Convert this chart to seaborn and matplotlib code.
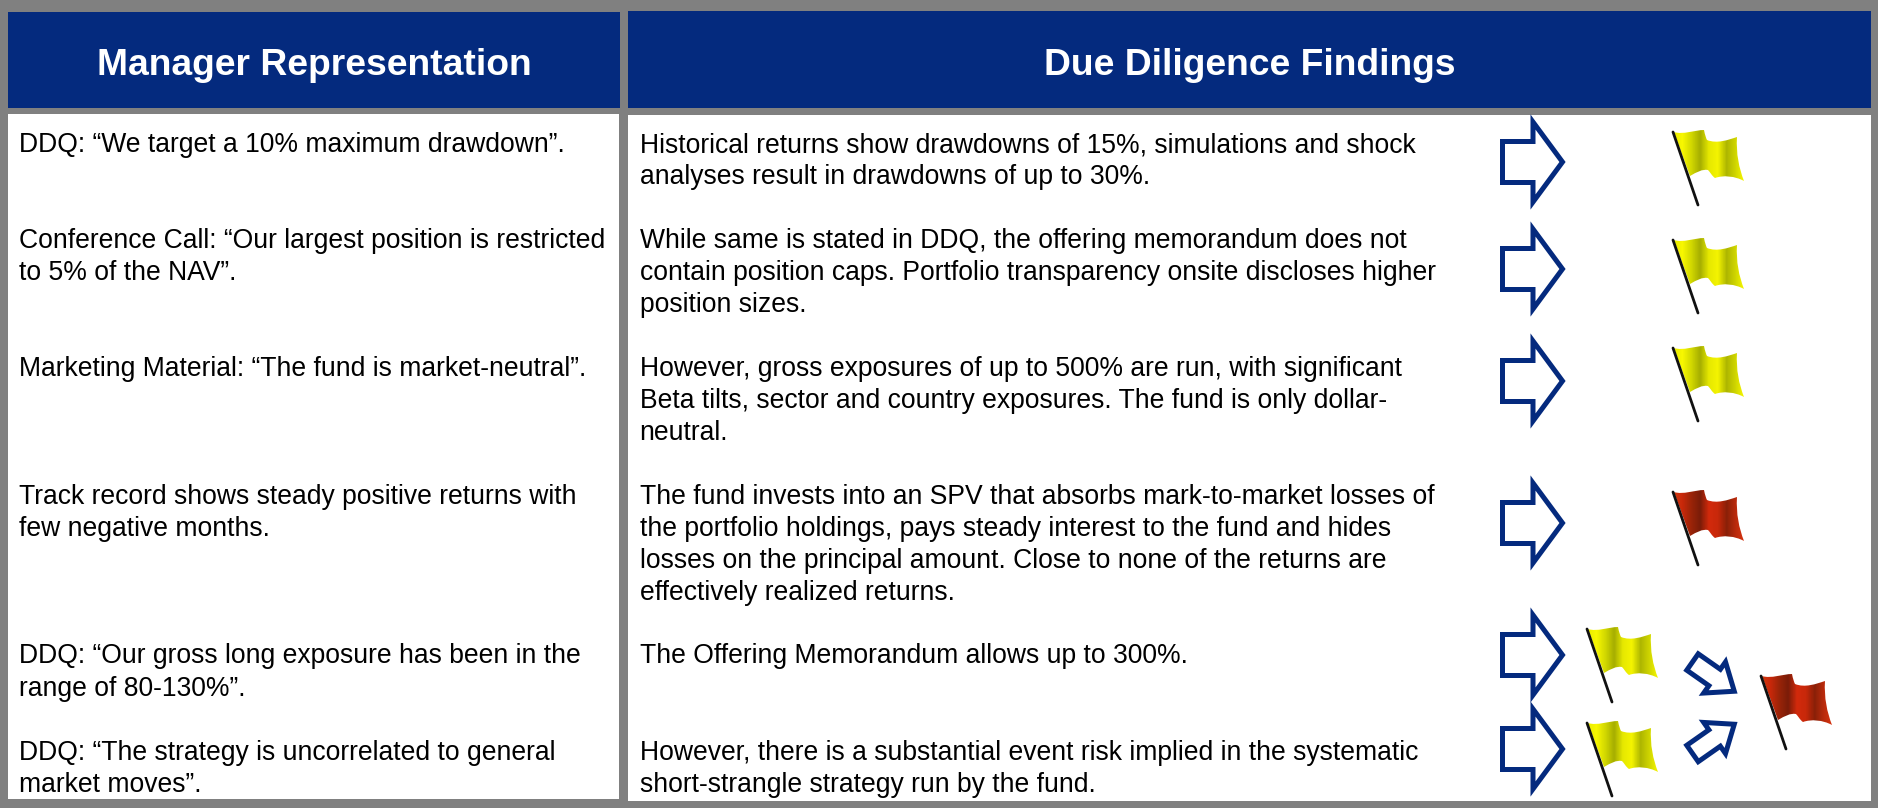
import numpy as np
import matplotlib
matplotlib.use("Agg")
import matplotlib.pyplot as plt
from matplotlib.patches import Rectangle, Polygon, PathPatch
from matplotlib.path import Path
import seaborn as sns

sns.set_theme(style="white")
plt.rcParams['font.family'] = ['Liberation Sans', 'DejaVu Sans']

W, H = 1878, 808
GREY, NAVY, INK = "#808080", "#042A7E", "#000000"

headers = ["Manager Representation", "Due Diligence Findings"]
left_text = [
    (152, "DDQ: “We target a 10% maximum drawdown”."),
    (248, "Conference Call: “Our largest position is restricted"),
    (280, "to 5% of the NAV”."),
    (376, "Marketing Material: “The fund is market-neutral”."),
    (504, "Track record shows steady positive returns with"),
    (536, "few negative months."),
    (663, "DDQ: “Our gross long exposure has been in the"),
    (696, "range of 80-130%”."),
    (760, "DDQ: “The strategy is uncorrelated to general"),
    (792, "market moves”."),
]
right_text = [
    (152, "Historical returns show drawdowns of 15%, simulations and shock"),
    (184, "analyses result in drawdowns of up to 30%."),
    (248, "While same is stated in DDQ, the offering memorandum does not"),
    (280, "contain position caps. Portfolio transparency onsite discloses higher"),
    (312, "position sizes."),
    (376, "However, gross exposures of up to 500% are run, with significant"),
    (408, "Beta tilts, sector and country exposures. The fund is only dollar-"),
    (440, "neutral."),
    (504, "The fund invests into an SPV that absorbs mark-to-market losses of"),
    (536, "the portfolio holdings, pays steady interest to the fund and hides"),
    (568, "losses on the principal amount. Close to none of the returns are"),
    (600, "effectively realized returns."),
    (663, "The Offering Memorandum allows up to 300%."),
    (760, "However, there is a substantial event risk implied in the systematic"),
    (792, "short-strangle strategy run by the fund."),
]
arrow_y = [162, 269, 381, 523, 655, 749]
flag_pos = [(1673, 132, "y"), (1673, 240, "y"), (1673, 348, "y"), (1673, 492, "r"),
            (1587, 629, "y"), (1587, 723, "y"), (1761, 676, "r")]

fig = plt.figure(figsize=(W / 100, H / 100), dpi=100, facecolor=GREY)
ax = fig.add_axes([0, 0, 1, 1])
ax.set_xlim(0, W)
ax.set_ylim(H, 0)
ax.axis("off")

for x0, x1, y0, y1, c in [(8, 620, 12, 108, NAVY), (628, 1871, 11, 108, NAVY),
                          (8, 619, 114, 799, "white"), (628, 1871, 115, 801, "white")]:
    ax.add_patch(Rectangle((x0, y0), x1 - x0, y1 - y0, fc=c, ec="none", zorder=1))

ax.text(314, 75, headers[0], color="white", fontsize=26.8, fontweight="bold", ha="center", va="baseline")
ax.text(1250, 75, headers[1], color="white", fontsize=26.8, fontweight="bold", ha="center", va="baseline")
for y, s in left_text:
    ax.text(19, y, s, color=INK, fontsize=19.1, va="baseline")
for y, s in right_text:
    ax.text(639.5, y, s, color=INK, fontsize=19.1, va="baseline")

BIG = np.array([(0, -20.5), (30.5, -20.5), (30.5, -40), (60, 0), (30.5, 40), (30.5, 20.5), (0, 20.5)], float)
SMALL = np.array([(0, -10), (27, -10), (27, -19), (51, 0), (27, 19), (27, 10), (0, 10)], float)

def arrow(shape, cx, cy, angle=0.0):
    a = np.deg2rad(angle)
    R = np.array([[np.cos(a), -np.sin(a)], [np.sin(a), np.cos(a)]])
    pts = shape @ R.T + (cx, cy)
    ax.add_patch(Polygon(pts, closed=True, fc="white", ec=NAVY, lw=3.6, joinstyle="miter", zorder=3))

for y in arrow_y:
    arrow(BIG, 1502.5, y)
arrow(SMALL, 1692.5, 662, 35)
arrow(SMALL, 1692.5, 753.5, -35)

CLOTH = [(Path.MOVETO, (1, 0)), (Path.CURVE4, (10, 3)), (Path.CURVE4, (22, -2)), (Path.CURVE4, (31, -2)),
         (Path.CURVE4, (32, 3)), (Path.CURVE4, (33, 6)), (Path.CURVE4, (34, 8)),
         (Path.CURVE4, (44, 12)), (Path.CURVE4, (55, 8)), (Path.CURVE4, (64, 5)),
         (Path.CURVE4, (63, 22)), (Path.CURVE4, (66, 36)), (Path.CURVE4, (71, 49)),
         (Path.CURVE4, (62, 44)), (Path.CURVE4, (50, 43)), (Path.CURVE4, (42, 46)),
         (Path.CURVE4, (39, 44)), (Path.CURVE4, (37, 40)), (Path.CURVE4, (35, 38)),
         (Path.CURVE4, (29, 37)), (Path.CURVE4, (24, 40)), (Path.CURVE4, (17, 44)),
         (Path.CLOSEPOLY, (1, 0))]
codes = [c for c, _ in CLOTH]
verts = np.array([v for _, v in CLOTH], float)

STOPS = {"y": ["#E8EA00", "#F8F800", "#D2D800", "#A6AE00", "#E6E800", "#F4F400", "#AEB600", "#D0D600", "#F8F800"],
         "r": ["#D23A10", "#C8280A", "#9A2408", "#7A1C08", "#D22A0C", "#C8280A", "#8A2008", "#B82A0C", "#D83410"]}

def flag(px, py, kind):
    grad = np.array(sns.blend_palette(STOPS[kind], n_colors=72))[None, :, :]
    im = ax.imshow(grad, extent=(px, px + 72, py + 52, py - 5), aspect="auto",
                   interpolation="bilinear", zorder=2)
    im.set_clip_path(PathPatch(Path(verts + (px, py), codes), transform=ax.transData))
    ax.plot([px, px + 25], [py, py + 73], color="#111111", lw=2.0, zorder=4, solid_capstyle="round")

for px, py, k in flag_pos:
    flag(px, py, k)
ax.set_xlim(0, W)
ax.set_ylim(H, 0)

fig.savefig("out.png", dpi=100, facecolor=GREY)
